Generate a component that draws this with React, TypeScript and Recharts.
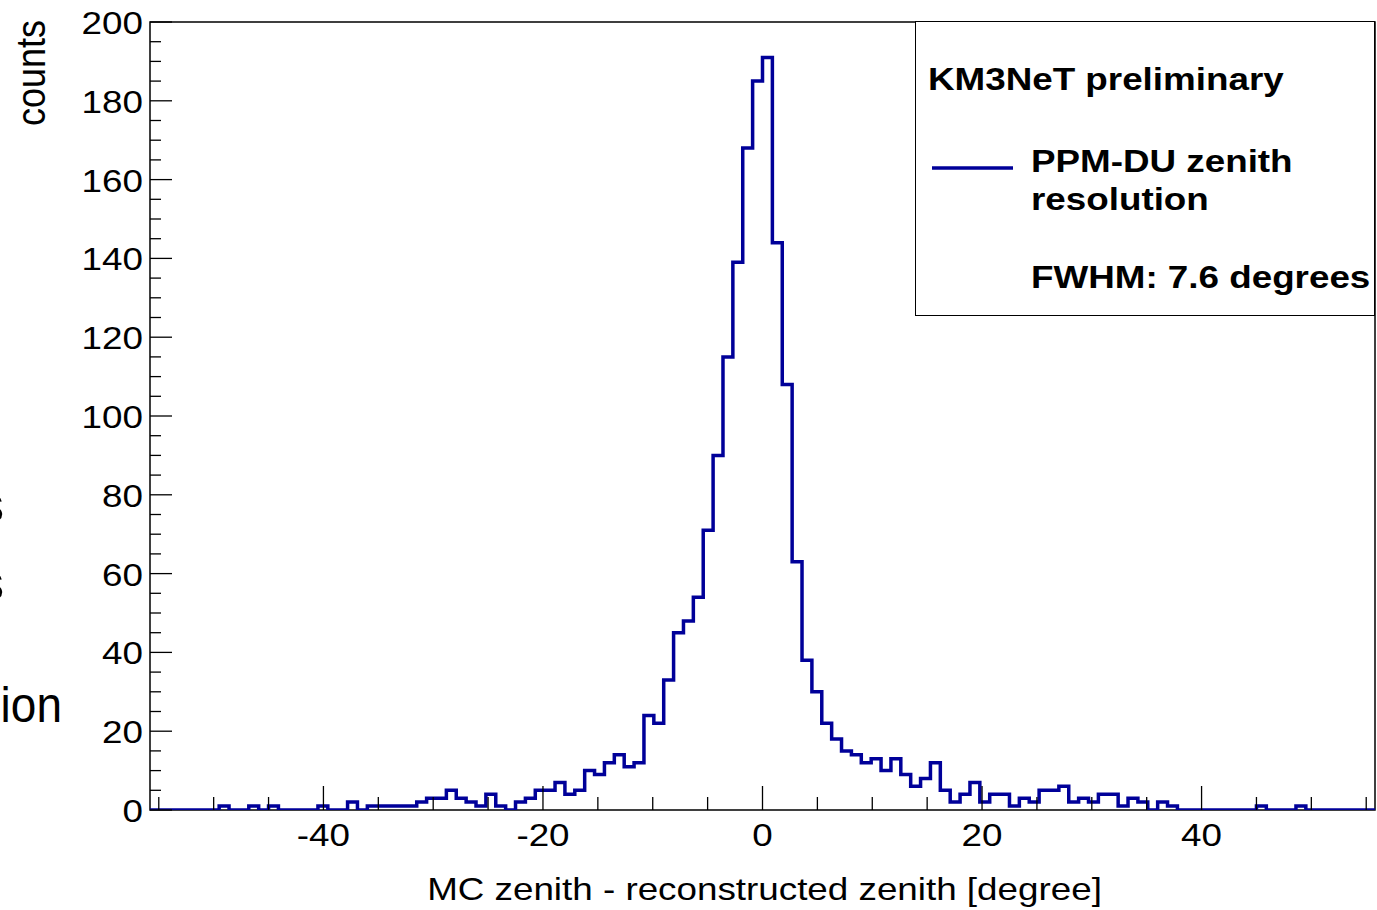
import { LineChart, Line, XAxis, YAxis, ReferenceArea, Legend } from 'recharts';

const FONT = "'Liberation Sans', Arial, Helvetica, sans-serif";
const STRETCH = 1.15; // the picture is a little wider than tall
const BLUE = '#000099';

const X_MIN = -55.8;
const X_MAX = 55.8;
const BIN_WIDTH = 0.9;

// counts per bin, left to right (124 bins of 0.9 degree)
const farLeftCounts = [0, 0, 0, 0, 0, 0, 0, 1, 0, 0, 1, 0, 1, 0, 0, 0, 0, 1, 0, 0, 2, 0, 1, 1, 1, 1];
const leftShoulderCounts = [1, 2, 3, 3, 5, 3, 2, 1, 4, 1, 0, 2, 3, 5, 5, 7, 4, 5, 10, 9, 12, 14, 11, 12];
const peakCounts = [24, 22, 33, 45, 48, 54, 71, 90, 115, 139, 168, 185, 191, 144, 108, 63, 38, 30];
const rightShoulderCounts = [
  22, 18, 15, 14, 12, 13, 10, 13, 9, 6, 8, 12, 5, 2, 4, 7, 2, 4, 4, 1, 3, 2, 5, 5, 6, 2, 3, 2, 4, 4, 1, 3, 2,
  0, 2, 1,
];
const farRightCounts = [0, 0, 0, 0, 0, 0, 0, 0, 1, 0, 0, 0, 1, 0, 0, 0, 0, 0, 0, 0];

const xTicks = [-55, -50, -45, -40, -35, -30, -25, -20, -15, -10, -5, 0, 5, 10, 15, 20, 25, 30, 35, 40, 45, 50, 55];
const xLabels = [-40, -20, 0, 20, 40];
const yTicks = [
  0, 5, 10, 15, 20, 25, 30, 35, 40, 45, 50, 55, 60, 65, 70, 75, 80, 85, 90, 95, 100, 105, 110, 115, 120, 125,
  130, 135, 140, 145, 150, 155, 160, 165, 170, 175, 180, 185, 190, 195, 200,
];
const yLabels = [0, 20, 40, 60, 80, 100, 120, 140, 160, 180, 200];

const counts = [...farLeftCounts, ...leftShoulderCounts, ...peakCounts, ...rightShoulderCounts, ...farRightCounts];

// one point per bin left edge, plus the closing right edge
const histData = counts
  .map((c, i) => ({ x: Math.round((X_MIN + i * BIN_WIDTH) * 100) / 100, count: c }))
  .concat([{ x: X_MAX, count: counts[counts.length - 1] }]);

const XTick = (props: any) => {
  const { x, y, payload } = props;
  const major = xLabels.includes(payload.value);
  return (
    <g>
      <line x1={x} x2={x} y1={y} y2={y - (major ? 24 : 13)} stroke="#000" strokeWidth={1.3} />
      {major && (
        <text
          transform={`translate(${x},${y + 36}) scale(${STRETCH},1)`}
          textAnchor="middle"
          fontFamily={FONT}
          fontSize={32}
          fill="#000"
        >
          {payload.value}
        </text>
      )}
    </g>
  );
};

const YTick = (props: any) => {
  const { x, y, payload } = props;
  const major = yLabels.includes(payload.value);
  return (
    <g>
      <line x1={x} x2={x + (major ? 22 : 11)} y1={y} y2={y} stroke="#000" strokeWidth={1.3} />
      {major && (
        <text
          transform={`translate(${x - 7},${y + 12}) scale(${STRETCH},1)`}
          textAnchor="end"
          fontFamily={FONT}
          fontSize={32}
          fill="#000"
        >
          {payload.value}
        </text>
      )}
    </g>
  );
};

const XTitle = (props: any) => {
  const vb = props.viewBox || { x: 150, y: 810, width: 1225 };
  return (
    <text
      transform={`translate(${vb.x + vb.width / 2 + 2},${vb.y + 90}) scale(${STRETCH},1)`}
      textAnchor="middle"
      fontFamily={FONT}
      fontSize={32}
      fill="#000"
    >
      MC zenith - reconstructed zenith [degree]
    </text>
  );
};

const YTitle = (props: any) => {
  const vb = props.viewBox || { x: 0, y: 22 };
  return (
    <text
      transform={`translate(${vb.x + 45},${vb.y - 2}) scale(${STRETCH},1) rotate(-90)`}
      textAnchor="end"
      fontFamily={FONT}
      fontSize={36}
      fill="#000"
    >
      counts
    </text>
  );
};

const LegendBox = () => (
  <div style={{ width: 460, height: 295, border: '1.5px solid #000', boxSizing: 'border-box', background: '#fff' }}>
    <svg width={457} height={292} style={{ display: 'block' }}>
      <g fontFamily={FONT} fontWeight="bold" fontSize={32} fill="#000">
        <text transform={`translate(12,68) scale(${STRETCH},1)`}>KM3NeT preliminary</text>
        <line x1={16} x2={97} y1={146} y2={146} stroke={BLUE} strokeWidth={3.5} />
        <text transform={`translate(115,150) scale(${STRETCH},1)`}>PPM-DU zenith</text>
        <text transform={`translate(115,188) scale(${STRETCH},1)`}>resolution</text>
        <text transform={`translate(115,266) scale(${STRETCH},1)`}>FWHM: 7.6 degrees</text>
      </g>
    </svg>
  </div>
);

export default function App() {
  return (
    <div
      style={{
        position: 'absolute',
        left: 0,
        top: 0,
        width: 1377,
        height: 910,
        background: '#fff',
        overflow: 'hidden',
      }}
    >
      {/* leftovers of the slide text that the crop cut through */}
      <svg width={80} height={910} style={{ position: 'absolute', left: 0, top: 0 }}>
        <g fontFamily={FONT} fontSize={50} fill="#000">
          <text x={4} y={522} textAnchor="end">s</text>
          <text x={4} y={600} textAnchor="end">s</text>
          <text transform="translate(62,722) scale(0.92,1)" textAnchor="end">ion</text>
        </g>
      </svg>
      <LineChart width={1377} height={910} data={histData} margin={{ top: 22, right: 2, bottom: 0, left: 0 }}>
        <XAxis
          dataKey="x"
          type="number"
          domain={[X_MIN, X_MAX]}
          allowDataOverflow
          ticks={xTicks}
          interval={0}
          height={100}
          tickSize={0}
          tickMargin={0}
          axisLine={false}
          tickLine={false}
          tick={XTick}
          label={{ content: XTitle }}
        />
        <YAxis
          type="number"
          domain={[0, 200]}
          allowDataOverflow
          ticks={yTicks}
          interval={0}
          width={150}
          tickSize={0}
          tickMargin={0}
          axisLine={false}
          tickLine={false}
          tick={YTick}
          label={{ content: YTitle }}
        />
        <ReferenceArea x1={X_MIN} x2={X_MAX} y1={0} y2={200} fill="none" stroke="#000" strokeWidth={1.5} />
        <Legend
          layout="horizontal"
          verticalAlign="middle"
          align="center"
          wrapperStyle={{ left: 915, top: 21, width: 460, height: 295 }}
          content={LegendBox}
        />
        <Line
          type="stepAfter"
          dataKey="count"
          stroke={BLUE}
          strokeWidth={3.5}
          dot={false}
          isAnimationActive={false}
        />
      </LineChart>
    </div>
  );
}
